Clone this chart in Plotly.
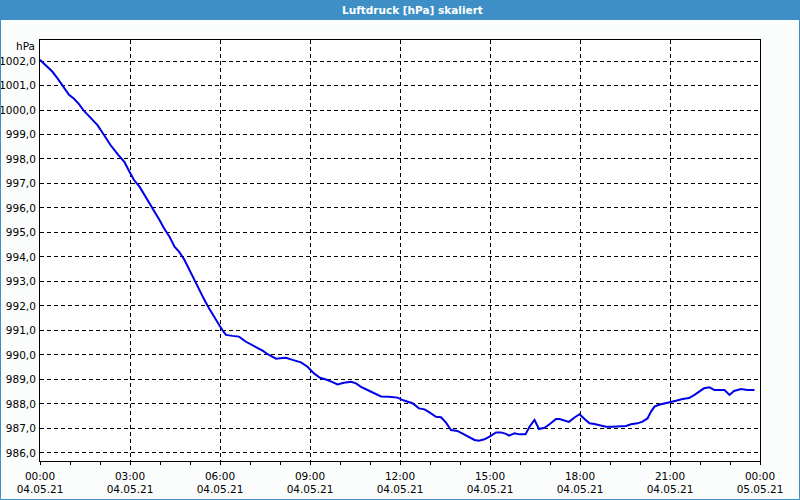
import plotly.graph_objects as go

# ---- data ----
day = "2021-05-04"
times = ["00:00", "00:14", "00:25", "00:35", "00:44", "00:58", "01:08", "01:18", "01:28", "01:41",
         "01:55", "02:08", "02:21", "02:36", "02:49", "02:59", "03:08", "03:19", "03:29", "03:38",
         "03:49", "03:59", "04:08", "04:19", "04:29", "04:38", "04:49", "04:59", "05:08", "05:19",
         "05:29", "05:38", "05:49", "05:59", "06:07", "06:12", "06:25", "06:38", "06:52", "07:08",
         "07:25", "07:38", "07:52", "08:05", "08:12", "08:25", "08:42", "08:55", "09:08", "09:20",
         "09:32", "09:45", "09:55", "10:08", "10:22", "10:32", "10:42", "10:55", "11:08", "11:22",
         "11:38", "11:55", "12:08", "12:25", "12:38", "12:49", "12:59", "13:12", "13:22", "13:32",
         "13:42", "13:55", "14:08", "14:19", "14:29", "14:38", "14:49", "14:59", "15:12", "15:22",
         "15:32", "15:38", "15:49", "15:59", "16:11", "16:19", "16:29", "16:38", "16:49", "16:59",
         "17:12", "17:19", "17:29", "17:38", "17:49", "17:59", "18:08", "18:19", "18:29", "18:38",
         "18:52", "19:05", "19:19", "19:32", "19:42", "19:55", "20:05", "20:15", "20:22", "20:29",
         "20:38", "20:49", "20:59", "21:12", "21:25", "21:38", "21:49", "21:59", "22:08", "22:19",
         "22:29", "22:38", "22:49", "22:59", "23:08", "23:22", "23:35", "23:49"]
pressure = [1002.05, 1001.78, 1001.56, 1001.29, 1001.02, 1000.62, 1000.46, 1000.24, 999.96, 999.66,
            999.38, 998.98, 998.57, 998.18, 997.87, 997.48, 997.14, 996.87, 996.53, 996.26,
            995.85, 995.51, 995.17, 994.83, 994.42, 994.22, 993.88, 993.47, 993.06, 992.65,
            992.24, 991.91, 991.52, 991.20, 990.95, 990.82, 990.78, 990.75, 990.54, 990.37,
            990.18, 990.00, 989.85, 989.88, 989.89, 989.80, 989.70, 989.52, 989.25, 989.07,
            989.00, 988.89, 988.80, 988.87, 988.91, 988.84, 988.70, 988.57, 988.44, 988.31,
            988.30, 988.26, 988.14, 988.03, 987.82, 987.78, 987.66, 987.48, 987.46, 987.24,
            986.94, 986.90, 986.76, 986.64, 986.53, 986.50, 986.56, 986.67, 986.84, 986.84,
            986.78, 986.71, 986.80, 986.76, 986.76, 987.07, 987.35, 986.98, 987.03, 987.17,
            987.39, 987.39, 987.31, 987.27, 987.45, 987.58, 987.41, 987.21, 987.18, 987.14,
            987.07, 987.07, 987.07, 987.10, 987.17, 987.21, 987.28, 987.41, 987.69, 987.89,
            987.97, 988.03, 988.09, 988.13, 988.20, 988.24, 988.37, 988.50, 988.64, 988.68,
            988.57, 988.57, 988.57, 988.37, 988.53, 988.61, 988.57, 988.57]

title_text = "Luftdruck [hPa] skaliert"
unit_text = "hPa"
x_start = "2021-05-04 00:00"
x_end = "2021-05-05 00:00"

x_values = [f"{day} {t}" for t in times]

# ---- layout geometry (pixels) ----
W, H = 800, 500
L, R, T, B = 40, 40, 40, 39
pw, ph = W - L - R, H - T - B


def px(x):
    return (x - L) / pw


def py(y):
    return (H - B - y) / ph


BAR = "#3d8fc6"
FONT = "DejaVu Sans"

fig = go.Figure()
fig.add_trace(go.Scatter(
    x=x_values, y=pressure, mode="lines",
    line=dict(color="#0000e8", width=2),
    hoverinfo="skip", showlegend=False,
))

fig.update_layout(
    width=W, height=H,
    margin=dict(l=L, r=R, t=T, b=B, pad=0, autoexpand=False),
    paper_bgcolor="#fbfdfc",
    plot_bgcolor="#ffffff",
    separators=",.",
    font=dict(family=FONT, size=10.5, color="#000000"),
    showlegend=False,
    xaxis=dict(
        type="date",
        automargin=False,
        range=[x_start, x_end],
        tick0=x_start,
        dtick=3 * 3600000,
        tickformat="%H:%M<br>%d.%m.%y",
        ticks="outside", ticklen=3, tickcolor="#000000", tickwidth=1,
        ticklabelstandoff=2,
        showgrid=True, gridcolor="#000000", gridwidth=1, griddash="4px,3px",
        showline=True, linecolor="#000000", linewidth=1, mirror=True,
        minor=dict(dtick=3600000, ticks="outside", ticklen=3, tickcolor="#000000", showgrid=False),
        tickfont=dict(family=FONT, size=10.5, color="#000000"),
        fixedrange=True,
    ),
    yaxis=dict(
        automargin=False,
        range=[985.673, 1002.857],
        tick0=986, dtick=1,
        tickformat=".1f",
        ticks="",
        ticklabelstandoff=1,
        showgrid=True, gridcolor="#000000", gridwidth=1, griddash="4px,3px",
        zeroline=False,
        showline=True, linecolor="#000000", linewidth=1, mirror=True,
        tickfont=dict(family=FONT, size=10.5, color="#000000"),
        fixedrange=True,
    ),
    shapes=[
        dict(type="rect", xref="paper", yref="paper",
             x0=px(0), x1=px(W), y0=py(20), y1=py(0),
             fillcolor=BAR, line=dict(width=0), layer="above"),
        dict(type="rect", xref="paper", yref="paper",
             x0=px(0.5), x1=px(W - 0.5), y0=py(H - 0.5), y1=py(0.5),
             fillcolor="rgba(0,0,0,0)", line=dict(color=BAR, width=1), layer="above"),
    ],
    annotations=[
        dict(text=f"<b>{title_text}</b>", xref="paper", yref="paper",
             x=px(412), y=py(10), xanchor="center", yanchor="middle",
             showarrow=False, font=dict(family=FONT, size=10.5, color="#ffffff")),
        dict(text=unit_text, xref="paper", yref="paper",
             x=px(37), y=py(46), xanchor="right", yanchor="middle",
             showarrow=False, font=dict(family=FONT, size=10.5, color="#000000")),
    ],
)

fig.write_html("out.html")
